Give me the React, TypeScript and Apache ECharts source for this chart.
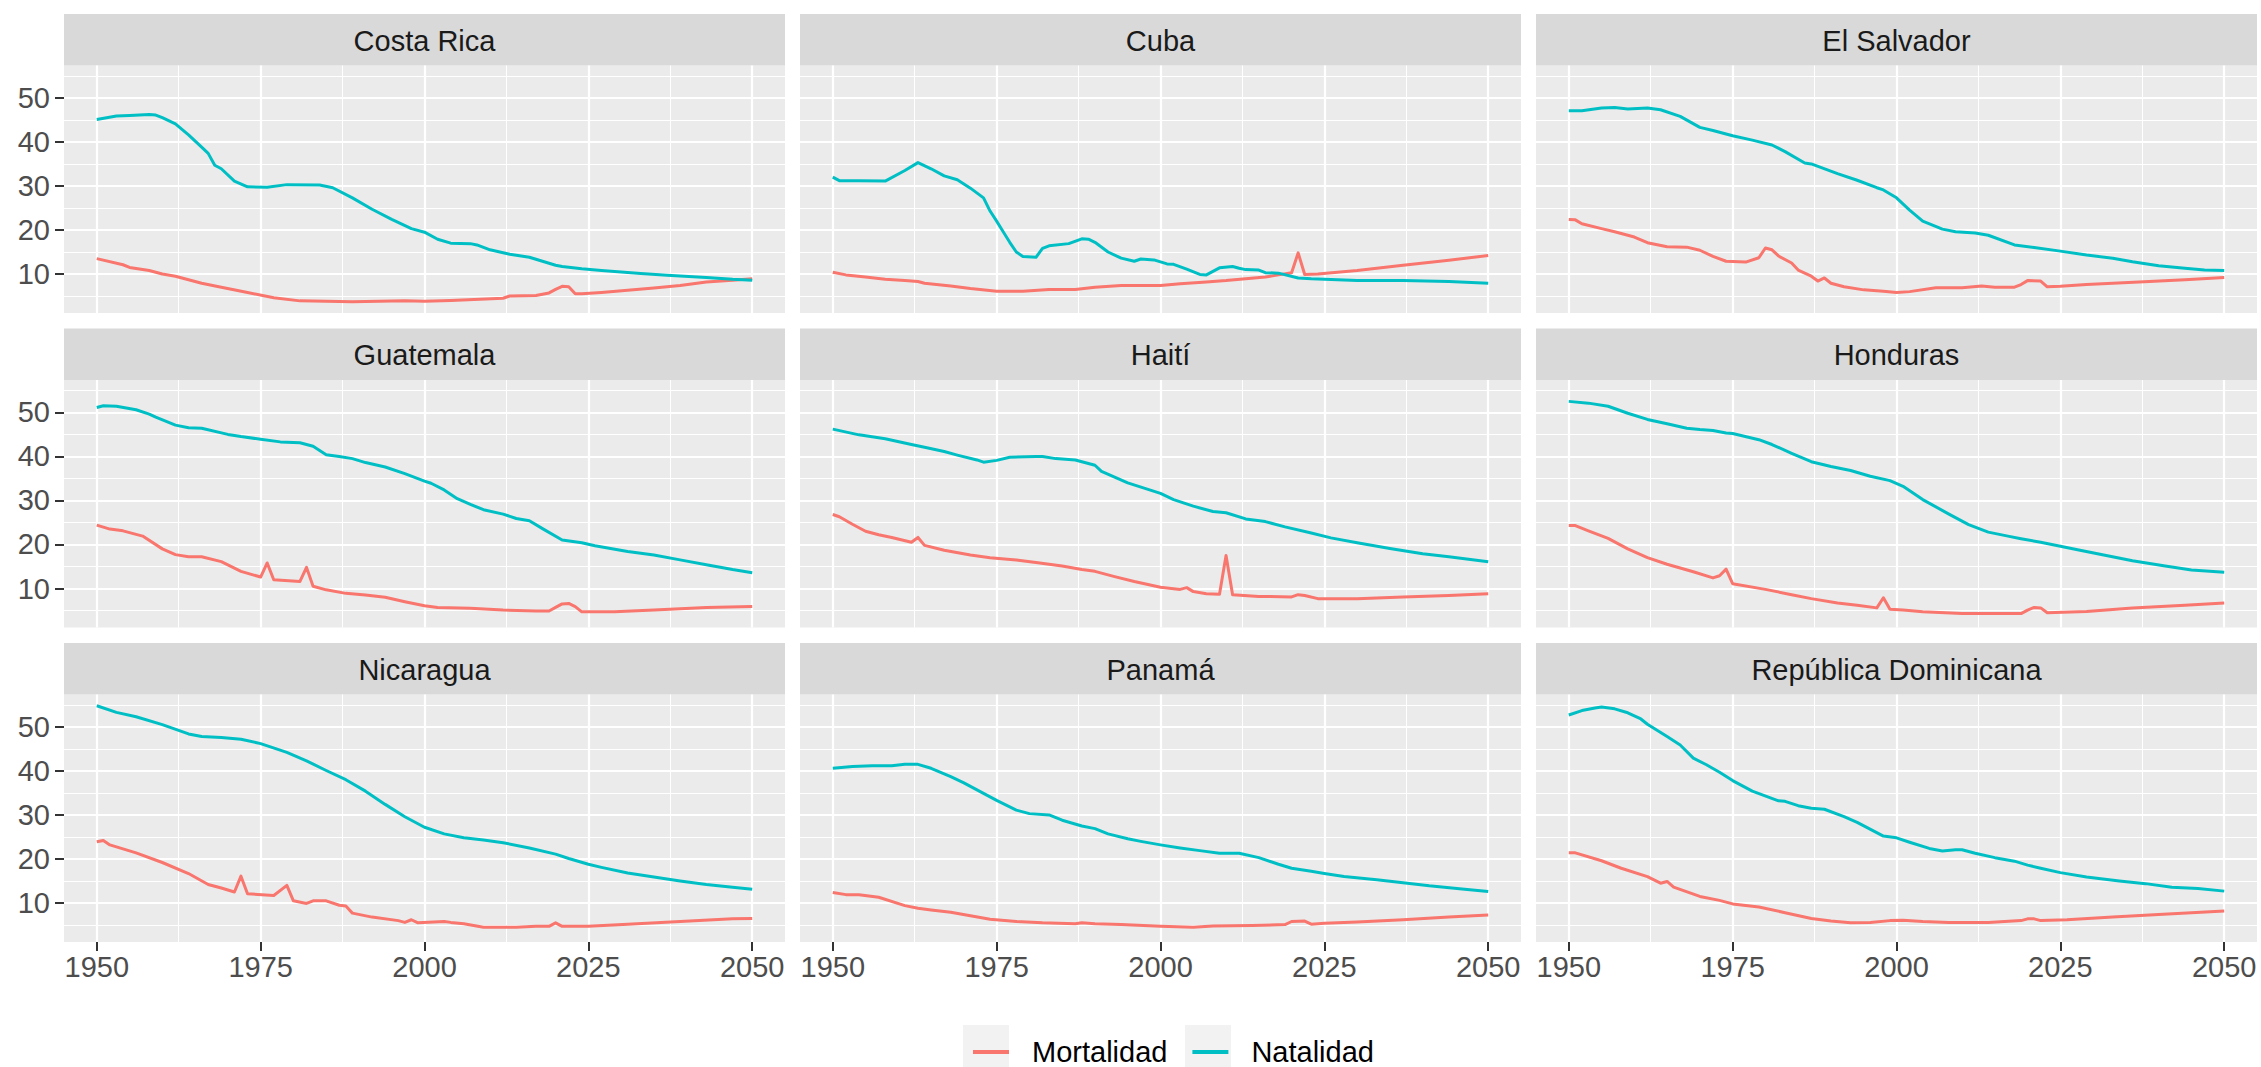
import React, { useEffect, useRef } from 'react';
import * as echarts from 'echarts';

const countries = ['Costa Rica', 'Cuba', 'El Salvador', 'Guatemala', 'Haití', 'Honduras', 'Nicaragua', 'Panamá', 'República Dominicana'];
const seriesNames = ['Mortalidad', 'Natalidad'];
const seriesColors = ['#F8766D', '#00BFC4'];
const xMajorTicks = [1950, 1975, 2000, 2025, 2050];
const xMinorTicks = [1962.5, 1987.5, 2012.5, 2037.5];
const yMajorTicks = [10, 20, 30, 40, 50];
const yMinorTicks = [5, 15, 25, 35, 45, 55];
const xRange = [1945, 2055];

const natCostaRica = [[1950,45.1],[1953,45.9],[1955,46.0],[1958,46.2],[1959,46.1],[1960,45.5],[1962,44.1],[1964,41.6],[1966,38.8],[1967,37.4],[1968,34.7],[1969,33.9],[1971,31.1],[1973,29.8],[1976,29.7],[1979,30.3],[1984,30.2],[1986,29.6],[1989,27.3],[1992,24.7],[1995,22.4],[1998,20.3],[2000,19.5],[2002,17.9],[2004,17.0],[2007,16.9],[2008,16.6],[2010,15.5],[2013,14.5],[2016,13.8],[2018,12.9],[2020,12.0],[2021,11.7],[2024,11.2],[2027,10.8],[2033,10.1],[2037,9.7],[2043,9.2],[2047,8.8],[2050,8.6]];
const mortCostaRica = [[1950,13.5],[1954,12.1],[1955,11.5],[1958,10.8],[1960,10.0],[1962,9.5],[1966,7.9],[1969,7.0],[1973,5.8],[1977,4.6],[1981,3.9],[1989,3.7],[1997,3.9],[2000,3.8],[2004,4.0],[2012,4.5],[2013,5.0],[2017,5.1],[2019,5.7],[2020,6.5],[2021,7.2],[2022,7.1],[2023,5.5],[2024,5.5],[2027,5.8],[2031,6.3],[2035,6.8],[2039,7.4],[2043,8.2],[2047,8.6],[2050,8.9]];
const natCuba = [[1950,32.0],[1951,31.2],[1954,31.2],[1958,31.1],[1961,33.5],[1963,35.3],[1965,33.9],[1967,32.3],[1969,31.4],[1971,29.5],[1973,27.3],[1974,24.3],[1975,22.0],[1976,19.6],[1977,17.2],[1978,15.0],[1979,14.0],[1981,13.8],[1982,15.8],[1983,16.4],[1986,16.9],[1988,18.0],[1989,17.9],[1990,17.2],[1992,15.0],[1994,13.6],[1996,12.9],[1997,13.4],[1999,13.2],[2001,12.3],[2002,12.2],[2004,11.1],[2006,9.9],[2007,9.8],[2009,11.4],[2011,11.7],[2012,11.3],[2013,11.0],[2015,10.9],[2016,10.3],[2018,10.2],[2021,9.1],[2023,8.9],[2030,8.5],[2037,8.5],[2044,8.3],[2050,7.9]];
const mortCuba = [[1950,10.4],[1952,9.8],[1955,9.3],[1958,8.8],[1961,8.5],[1963,8.3],[1964,7.9],[1968,7.3],[1971,6.7],[1975,6.1],[1979,6.1],[1983,6.5],[1987,6.5],[1990,7.0],[1994,7.4],[2000,7.4],[2003,7.8],[2007,8.2],[2010,8.5],[2013,8.9],[2016,9.3],[2018,9.8],[2020,10.3],[2021,14.8],[2022,9.9],[2024,10.0],[2030,10.8],[2037,12.0],[2044,13.1],[2050,14.2]];
const natElSalvador = [[1950,47.1],[1952,47.1],[1955,47.7],[1957,47.8],[1959,47.5],[1962,47.7],[1964,47.3],[1967,45.8],[1970,43.3],[1972,42.6],[1975,41.4],[1978,40.4],[1981,39.3],[1983,37.8],[1986,35.2],[1987,35.0],[1991,32.8],[1994,31.3],[1997,29.6],[1998,29.1],[2000,27.3],[2002,24.5],[2004,22.0],[2007,20.2],[2009,19.6],[2012,19.3],[2014,18.8],[2018,16.6],[2021,16.0],[2025,15.2],[2029,14.3],[2033,13.6],[2036,12.8],[2040,11.9],[2044,11.3],[2047,10.9],[2050,10.8]];
const mortElSalvador = [[1950,22.4],[1951,22.3],[1952,21.4],[1955,20.3],[1957,19.6],[1960,18.4],[1962,17.1],[1965,16.2],[1968,16.1],[1970,15.4],[1972,14.0],[1974,12.9],[1977,12.7],[1979,13.7],[1980,15.9],[1981,15.5],[1982,14.1],[1984,12.5],[1985,10.9],[1987,9.5],[1988,8.4],[1989,9.1],[1990,7.9],[1992,7.1],[1995,6.4],[1998,6.1],[2000,5.8],[2002,6.0],[2006,6.9],[2010,6.9],[2013,7.3],[2015,7.0],[2018,7.0],[2019,7.6],[2020,8.5],[2022,8.4],[2023,7.1],[2025,7.2],[2029,7.6],[2037,8.2],[2044,8.7],[2050,9.2]];
const natGuatemala = [[1950,51.1],[1951,51.5],[1953,51.4],[1956,50.6],[1958,49.6],[1959,48.9],[1962,47.1],[1964,46.5],[1966,46.4],[1970,45.0],[1972,44.5],[1975,43.9],[1978,43.3],[1981,43.1],[1983,42.3],[1985,40.4],[1987,40.0],[1989,39.5],[1991,38.6],[1994,37.6],[1997,36.1],[2000,34.4],[2001,33.9],[2003,32.4],[2005,30.4],[2007,29.1],[2009,27.9],[2012,26.9],[2014,25.9],[2016,25.4],[2018,23.6],[2021,21.0],[2024,20.4],[2026,19.7],[2031,18.4],[2035,17.6],[2039,16.5],[2043,15.4],[2047,14.3],[2050,13.6]];
const mortGuatemala = [[1950,24.4],[1952,23.5],[1954,23.1],[1957,21.9],[1960,19.0],[1962,17.7],[1964,17.2],[1966,17.2],[1969,16.1],[1972,13.9],[1975,12.6],[1976,15.8],[1977,12.0],[1981,11.6],[1982,14.8],[1983,10.5],[1985,9.7],[1988,8.9],[1991,8.5],[1994,8.0],[1997,7.0],[2000,6.1],[2002,5.7],[2007,5.5],[2012,5.1],[2017,4.9],[2019,4.9],[2020,5.7],[2021,6.5],[2022,6.6],[2023,5.9],[2024,4.7],[2029,4.7],[2035,5.1],[2043,5.7],[2050,5.9]];
const natHaiti = [[1950,46.2],[1954,44.9],[1958,44.0],[1962,42.7],[1964,42.1],[1967,41.1],[1969,40.3],[1972,39.2],[1973,38.7],[1975,39.1],[1977,39.8],[1981,40.0],[1982,40.0],[1984,39.5],[1987,39.2],[1990,38.0],[1991,36.6],[1995,34.0],[2000,31.6],[2002,30.2],[2005,28.7],[2008,27.5],[2010,27.2],[2013,25.8],[2016,25.2],[2019,24.0],[2023,22.6],[2026,21.5],[2030,20.4],[2035,19.1],[2040,17.9],[2044,17.2],[2050,16.1]];
const mortHaiti = [[1950,26.8],[1951,26.3],[1953,24.6],[1955,23.0],[1957,22.2],[1959,21.6],[1962,20.5],[1963,21.6],[1964,19.8],[1967,18.7],[1971,17.6],[1974,17.0],[1978,16.5],[1981,15.9],[1985,15.1],[1988,14.3],[1990,13.9],[1993,12.7],[1996,11.6],[2000,10.3],[2003,9.8],[2004,10.2],[2005,9.3],[2007,8.8],[2009,8.7],[2010,17.5],[2011,8.6],[2015,8.2],[2020,8.1],[2021,8.6],[2022,8.4],[2024,7.7],[2030,7.7],[2037,8.1],[2044,8.4],[2050,8.8]];
const natHonduras = [[1950,52.5],[1953,52.1],[1956,51.4],[1959,49.8],[1962,48.4],[1965,47.4],[1968,46.4],[1970,46.1],[1972,45.9],[1974,45.3],[1975,45.2],[1979,43.8],[1981,42.7],[1984,40.7],[1987,38.8],[1990,37.7],[1993,36.8],[1996,35.5],[1999,34.5],[2001,33.2],[2004,30.2],[2008,26.9],[2011,24.5],[2014,22.8],[2017,21.9],[2019,21.3],[2022,20.5],[2025,19.6],[2028,18.7],[2032,17.5],[2036,16.3],[2041,15.1],[2045,14.2],[2050,13.7]];
const mortHonduras = [[1950,24.3],[1951,24.3],[1953,23.1],[1956,21.4],[1959,19.0],[1962,17.0],[1965,15.5],[1969,13.8],[1972,12.4],[1973,12.9],[1974,14.4],[1975,11.1],[1980,9.8],[1984,8.6],[1987,7.7],[1991,6.7],[1994,6.2],[1997,5.6],[1998,7.9],[1999,5.3],[2001,5.1],[2004,4.7],[2010,4.3],[2019,4.3],[2020,5.1],[2021,5.7],[2022,5.6],[2023,4.5],[2029,4.8],[2036,5.6],[2044,6.2],[2050,6.7]];
const natNicaragua = [[1950,54.8],[1953,53.3],[1956,52.3],[1960,50.5],[1964,48.4],[1966,47.8],[1969,47.6],[1972,47.2],[1975,46.2],[1979,44.2],[1982,42.3],[1985,40.1],[1988,38.0],[1991,35.4],[1994,32.4],[1997,29.6],[2000,27.2],[2003,25.7],[2006,24.8],[2009,24.3],[2012,23.7],[2016,22.5],[2020,21.1],[2022,20.1],[2025,18.8],[2027,18.1],[2031,16.8],[2035,15.9],[2039,15.0],[2043,14.2],[2047,13.6],[2050,13.1]];
const mortNicaragua = [[1950,23.9],[1951,24.2],[1952,23.2],[1956,21.4],[1960,19.2],[1964,16.7],[1967,14.2],[1969,13.4],[1971,12.5],[1972,16.1],[1973,12.1],[1977,11.7],[1979,14.0],[1980,10.5],[1982,9.9],[1983,10.5],[1985,10.5],[1987,9.5],[1988,9.3],[1989,7.7],[1992,6.8],[1996,6.0],[1997,5.6],[1998,6.2],[1999,5.5],[2003,5.8],[2004,5.6],[2006,5.3],[2009,4.5],[2014,4.5],[2017,4.7],[2019,4.7],[2020,5.5],[2021,4.7],[2025,4.7],[2031,5.2],[2039,5.8],[2047,6.4],[2050,6.5]];
const natPanama = [[1950,40.6],[1953,41.0],[1956,41.2],[1959,41.2],[1961,41.5],[1963,41.5],[1965,40.6],[1968,38.7],[1970,37.3],[1972,35.7],[1975,33.3],[1978,31.1],[1980,30.3],[1983,30.0],[1985,28.8],[1988,27.5],[1990,26.9],[1992,25.7],[1995,24.6],[1997,24.0],[2000,23.2],[2003,22.5],[2006,21.9],[2009,21.3],[2012,21.3],[2015,20.3],[2018,18.8],[2020,17.9],[2023,17.2],[2025,16.7],[2028,16.0],[2033,15.3],[2037,14.6],[2041,13.9],[2046,13.2],[2050,12.6]];
const mortPanama = [[1950,12.4],[1952,11.9],[1954,11.9],[1957,11.3],[1961,9.4],[1963,8.8],[1965,8.4],[1968,7.9],[1971,7.1],[1974,6.3],[1978,5.8],[1982,5.5],[1987,5.3],[1988,5.5],[1990,5.3],[1994,5.1],[2000,4.7],[2005,4.5],[2008,4.8],[2014,4.9],[2019,5.1],[2020,5.8],[2022,5.9],[2023,5.2],[2025,5.4],[2030,5.7],[2037,6.2],[2044,6.8],[2050,7.3]];
const natRepDominicana = [[1950,52.7],[1952,53.7],[1954,54.3],[1955,54.5],[1957,54.1],[1959,53.2],[1961,51.8],[1962,50.6],[1965,47.8],[1967,45.9],[1969,42.9],[1971,41.4],[1973,39.7],[1975,37.8],[1978,35.4],[1982,33.2],[1983,33.1],[1985,32.1],[1987,31.5],[1989,31.3],[1992,29.6],[1994,28.3],[1998,25.2],[2000,24.8],[2002,23.8],[2005,22.4],[2007,21.8],[2009,22.1],[2010,22.1],[2012,21.3],[2015,20.3],[2018,19.5],[2020,18.6],[2022,17.9],[2025,16.9],[2029,15.9],[2034,15.0],[2038,14.4],[2042,13.6],[2046,13.3],[2050,12.7]];
const mortRepDominicana = [[1950,21.4],[1951,21.4],[1955,19.6],[1958,17.9],[1962,16.0],[1964,14.5],[1965,14.9],[1966,13.6],[1970,11.5],[1973,10.6],[1975,9.8],[1979,9.1],[1983,7.8],[1987,6.5],[1990,5.9],[1993,5.5],[1996,5.6],[1999,6.0],[2001,6.1],[2004,5.8],[2008,5.6],[2014,5.6],[2019,6.0],[2020,6.4],[2021,6.4],[2022,6.0],[2026,6.2],[2033,6.8],[2040,7.4],[2050,8.2]];

const mortalidad = [mortCostaRica, mortCuba, mortElSalvador, mortGuatemala, mortHaiti, mortHonduras, mortNicaragua, mortPanama, mortRepDominicana];
const natalidad = [natCostaRica, natCuba, natElSalvador, natGuatemala, natHaiti, natHonduras, natNicaragua, natPanama, natRepDominicana];

// layout (pixels)
const W = 2261;
const H = 1067;
const PANEL_LEFT = [64, 800, 1536];
const PANEL_W = 721;
const STRIP_TOP = [14, 328.5, 643];
const STRIP_H = 51.5;
const PANEL_H = 247.5;
const FONT = '"Liberation Sans", Arial, Helvetica, sans-serif';
const FS = 29;

function App() {
  const ref = useRef<HTMLDivElement>(null);

  useEffect(() => {
    document.body.style.margin = '0';
    if (!ref.current) return;
    const chart = echarts.init(ref.current, undefined, { renderer: 'svg' });

    const all = [...mortalidad, ...natalidad].flat().map((p) => p[1]);
    const dMin = Math.min(...all);
    const dMax = Math.max(...all);
    const pad = (dMax - dMin) * 0.05;
    const yMin = dMin - pad;
    const yMax = dMax + pad;

    const grids: any[] = [];
    const xAxes: any[] = [];
    const yAxes: any[] = [];
    const series: any[] = [];
    const graphics: any[] = [];

    countries.forEach((name, i) => {
      const col = i % 3;
      const row = Math.floor(i / 3);
      const left = PANEL_LEFT[col];
      const top = STRIP_TOP[row] + STRIP_H;
      grids.push({
        left, top, width: PANEL_W, height: PANEL_H,
        show: true, backgroundColor: '#EBEBEB', borderWidth: 0,
        containLabel: false, outerBoundsMode: 'none',
      });
      const bottomRow = row === 2;
      const leftCol = col === 0;
      // major x
      xAxes.push({
        type: 'value', gridIndex: i, min: xRange[0], max: xRange[1], position: 'bottom', z: 2,
        axisLine: { show: false },
        axisTick: { show: bottomRow, customValues: xMajorTicks, length: 9, lineStyle: { color: '#333333', width: 2 } },
        axisLabel: { show: bottomRow, customValues: xMajorTicks, margin: 10, color: '#4D4D4D', fontSize: FS, fontFamily: FONT, formatter: (v: number) => String(v) },
        splitLine: { show: true, lineStyle: { color: '#FFFFFF', width: 2.2 } },
      });
      // minor x
      xAxes.push({
        type: 'value', gridIndex: i, min: xRange[0], max: xRange[1], position: 'bottom', z: 1,
        axisLine: { show: false },
        axisTick: { show: false, customValues: xMinorTicks },
        axisLabel: { show: false, customValues: xMinorTicks },
        splitLine: { show: true, lineStyle: { color: '#FFFFFF', width: 1.1 } },
      });
      // major y
      yAxes.push({
        type: 'value', gridIndex: i, min: yMin, max: yMax, position: 'left', z: 2,
        axisLine: { show: false },
        axisTick: { show: leftCol, customValues: yMajorTicks, length: 9, lineStyle: { color: '#333333', width: 2 } },
        axisLabel: { show: leftCol, customValues: yMajorTicks, margin: 14, color: '#4D4D4D', fontSize: FS, fontFamily: FONT, formatter: (v: number) => String(v) },
        splitLine: { show: true, lineStyle: { color: '#FFFFFF', width: 2.2 } },
      });
      // minor y
      yAxes.push({
        type: 'value', gridIndex: i, min: yMin, max: yMax, position: 'left', z: 1,
        axisLine: { show: false },
        axisTick: { show: false, customValues: yMinorTicks },
        axisLabel: { show: false, customValues: yMinorTicks },
        splitLine: { show: true, lineStyle: { color: '#FFFFFF', width: 1.1 } },
      });
      [mortalidad[i], natalidad[i]].forEach((data, k) => {
        series.push({
          type: 'line', name: seriesNames[k], data,
          xAxisIndex: 2 * i, yAxisIndex: 2 * i,
          showSymbol: false, symbol: 'none', z: 3,
          itemStyle: { color: seriesColors[k] },
          lineStyle: { color: seriesColors[k], width: 3, join: 'round' },
          emphasis: { disabled: true },
        });
      });
      graphics.push({
        type: 'rect', shape: { x: left, y: STRIP_TOP[row], width: PANEL_W, height: STRIP_H },
        style: { fill: '#D9D9D9' }, silent: true,
      });
      graphics.push({
        type: 'text', x: left + PANEL_W / 2, y: STRIP_TOP[row] + STRIP_H / 2 + 1,
        style: { text: name, fill: '#1A1A1A', fontSize: FS, fontFamily: FONT, align: 'center', verticalAlign: 'middle' },
        silent: true,
      });
    });

    // legend key backgrounds
    [963, 1185].forEach((x) => {
      graphics.push({ type: 'rect', shape: { x, y: 1025, width: 46, height: 42 }, style: { fill: '#F2F2F2' }, silent: true });
    });

    chart.setOption({
      animation: false,
      backgroundColor: '#FFFFFF',
      grid: grids,
      xAxis: xAxes,
      yAxis: yAxes,
      series,
      graphic: graphics,
      legend: {
        show: true, left: 968, top: 1030, orient: 'horizontal',
        data: seriesNames, icon: 'rect', itemWidth: 36, itemHeight: 4, itemGap: 25,
        selectedMode: false,
        textStyle: { color: '#000000', fontSize: FS, fontFamily: FONT, padding: [0, 0, 0, 18], lineHeight: 34 },
      },
      tooltip: { show: false },
    });

    return () => chart.dispose();
  }, []);

  return <div ref={ref} style={{ width: W, height: H }} />;
}

export default App;
